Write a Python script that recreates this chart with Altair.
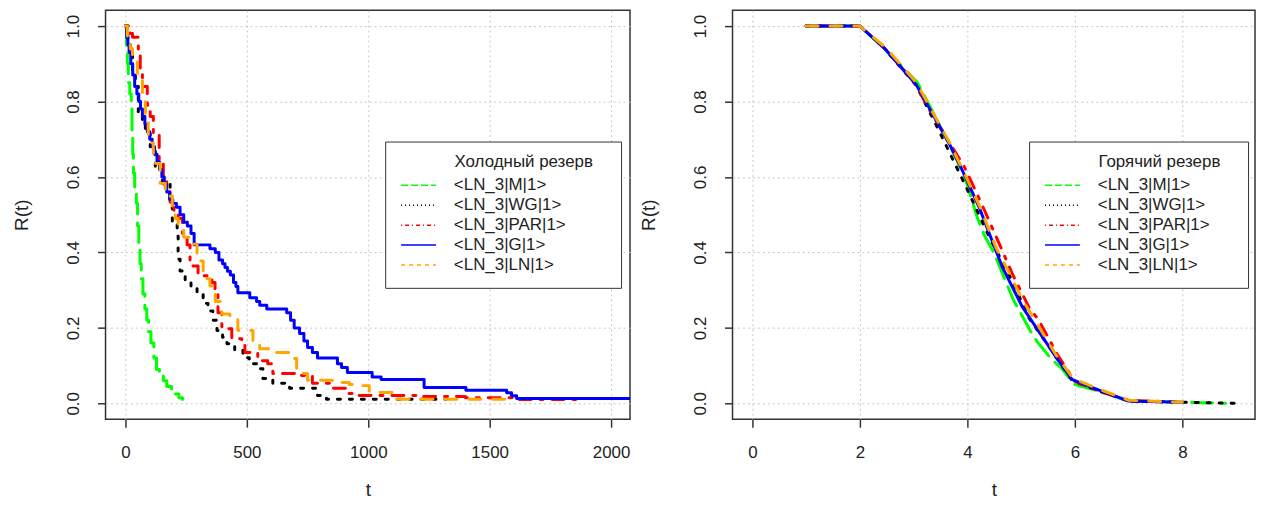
import altair as alt
import pandas as pd

# ---------------- data ----------------
series_names = ["<LN_3|M|1>", "<LN_3|WG|1>", "<LN_3|PAR|1>", "<LN_3|G|1>", "<LN_3|LN|1>"]
series_colors = ["#00ff00", "#000000", "#ff0000", "#0000ff", "#ffa500"]
plot_dashes = [[21, 9], [3, 9], [3, 9, 12, 9], [1, 0], [12, 12]]
legend_dashes = [[7, 3], [1, 3], [1, 3, 4, 3], [1, 0], [4, 4]]

# Cold reserve (step curves)
cold_M_t = [0, 4, 8, 12, 18, 24, 27, 30, 33, 38, 45, 50, 55, 60, 65, 72, 80, 88, 95, 105, 117, 128, 140, 156, 170, 190, 205, 220, 235]
cold_M_r = [1.0, 0.95, 0.9, 0.85, 0.82, 0.78, 0.72, 0.66, 0.61, 0.57, 0.53, 0.47, 0.42, 0.37, 0.33, 0.29, 0.25, 0.22, 0.19, 0.16, 0.12, 0.09, 0.075, 0.06, 0.045, 0.035, 0.025, 0.015, 0.01]

cold_WG_t = [0, 10, 20, 29, 41, 53, 70, 82, 102, 123, 152, 184, 193, 213, 217, 225, 246, 270, 295, 320, 340, 360, 377, 400, 418, 450, 484, 510, 541, 566, 607, 676, 766, 791, 828, 1320]
cold_WG_r = [1.0, 0.96, 0.937, 0.88, 0.84, 0.773, 0.74, 0.715, 0.68, 0.62, 0.583, 0.53, 0.478, 0.443, 0.382, 0.351, 0.325, 0.31, 0.29, 0.265, 0.245, 0.22, 0.193, 0.175, 0.158, 0.14, 0.121, 0.105, 0.092, 0.066, 0.053, 0.04, 0.04, 0.021, 0.011, 0.011]

cold_PAR_t = [0, 20, 29, 53, 61, 70, 90, 102, 115, 139, 156, 170, 184, 200, 217, 235, 254, 266, 299, 356, 369, 381, 397, 438, 479, 492, 545, 586, 607, 717, 770, 840, 910, 950, 1220, 1400, 1600, 1880]
cold_PAR_r = [1.0, 0.98, 0.97, 0.926, 0.88, 0.84, 0.79, 0.76, 0.715, 0.646, 0.594, 0.56, 0.53, 0.51, 0.49, 0.45, 0.42, 0.364, 0.338, 0.32, 0.29, 0.24, 0.198, 0.171, 0.158, 0.135, 0.113, 0.105, 0.079, 0.074, 0.053, 0.04, 0.026, 0.021, 0.018, 0.015, 0.01, 0.01]

cold_G_t = [0, 5, 10, 15, 22, 30, 38, 47, 55, 62, 70, 80, 90, 100, 110, 120, 130, 140, 150, 160, 170, 182, 195, 210, 225, 240, 255, 270, 283, 348, 370, 385, 400, 410, 420, 432, 445, 455, 463, 512, 540, 553, 582, 664, 680, 695, 717, 735, 750, 770, 791, 873, 890, 914, 1016, 1053, 1230, 1402, 1570, 1590, 1611, 2100]
cold_G_r = [1.0, 0.97, 0.95, 0.93, 0.9, 0.87, 0.84, 0.82, 0.8, 0.78, 0.76, 0.74, 0.72, 0.7, 0.68, 0.66, 0.64, 0.62, 0.6, 0.58, 0.56, 0.54, 0.53, 0.52, 0.5, 0.48, 0.47, 0.45, 0.42, 0.41, 0.4, 0.38, 0.37, 0.36, 0.35, 0.34, 0.32, 0.31, 0.293, 0.28, 0.27, 0.26, 0.25, 0.24, 0.22, 0.2, 0.185, 0.165, 0.148, 0.135, 0.12, 0.105, 0.095, 0.082, 0.07, 0.063, 0.042, 0.035, 0.028, 0.02, 0.013, 0.013]

cold_LN_t = [0, 8, 20, 29, 49, 70, 82, 94, 115, 143, 164, 193, 205, 217, 240, 266, 295, 320, 348, 370, 397, 430, 463, 525, 553, 594, 684, 705, 750, 852, 922, 971, 1004, 1098, 1586]
cold_LN_r = [1.0, 0.97, 0.94, 0.91, 0.857, 0.805, 0.76, 0.69, 0.636, 0.583, 0.549, 0.504, 0.49, 0.464, 0.44, 0.422, 0.377, 0.33, 0.311, 0.27, 0.237, 0.224, 0.193, 0.166, 0.145, 0.135, 0.119, 0.079, 0.061, 0.055, 0.05, 0.047, 0.029, 0.011, 0.011]

# Hot reserve (polyline curves)
hot_M_t = [1, 2, 2.28, 2.6, 3.07, 3.4, 3.67, 3.95, 4.19, 4.31, 4.47, 4.56, 4.69, 4.87, 5.18, 5.3, 5.57, 5.74, 5.89, 6.0, 6.5, 7.0, 7.5, 8.0, 8.8]
hot_M_r = [1.0, 1.0, 0.963, 0.92, 0.85, 0.76, 0.685, 0.6, 0.49, 0.447, 0.405, 0.376, 0.33, 0.27, 0.19, 0.163, 0.116, 0.095, 0.068, 0.05, 0.03, 0.006, 0.005, 0.003, 0.0]

hot_WG_t = [1, 2, 2.43, 3.05, 3.48, 3.97, 4.41, 4.83, 5.15, 5.52, 5.95, 6.5, 7.0, 8.0, 9.0]
hot_WG_r = [1.0, 1.0, 0.945, 0.842, 0.72, 0.575, 0.44, 0.325, 0.225, 0.15, 0.06, 0.03, 0.006, 0.003, 0.0]

hot_PAR_t = [1, 2, 2.5, 3.0, 3.3, 3.67, 3.95, 4.26, 4.54, 4.83, 5.15, 5.33, 5.67, 6.0, 6.5, 7.0, 7.8]
hot_PAR_r = [1.0, 1.0, 0.935, 0.853, 0.776, 0.69, 0.625, 0.53, 0.44, 0.345, 0.253, 0.22, 0.13, 0.058, 0.03, 0.008, 0.004]

hot_G_t = [1, 2, 2.43, 3.05, 3.36, 3.67, 3.91, 4.22, 4.41, 4.65, 5.02, 5.27, 5.64, 5.95, 6.5, 7.0, 8.0]
hot_G_r = [1.0, 1.0, 0.945, 0.844, 0.765, 0.686, 0.616, 0.519, 0.449, 0.361, 0.256, 0.203, 0.124, 0.063, 0.032, 0.006, 0.003]

hot_LN_t = [1, 2, 2.5, 3.05, 3.36, 3.67, 3.91, 4.22, 4.54, 4.8, 5.02, 5.3, 5.64, 5.97, 6.5, 7.0, 8.0]
hot_LN_r = [1.0, 1.0, 0.94, 0.85, 0.77, 0.69, 0.62, 0.525, 0.41, 0.34, 0.275, 0.21, 0.13, 0.065, 0.035, 0.008, 0.003]

cold_tabs = [(cold_M_t, cold_M_r), (cold_WG_t, cold_WG_r), (cold_PAR_t, cold_PAR_r), (cold_G_t, cold_G_r), (cold_LN_t, cold_LN_r)]
hot_tabs = [(hot_M_t, hot_M_r), (hot_WG_t, hot_WG_r), (hot_PAR_t, hot_PAR_r), (hot_G_t, hot_G_r), (hot_LN_t, hot_LN_r)]


def to_df(tabs):
    frames = []
    for name, (t, r) in zip(series_names, tabs):
        frames.append(pd.DataFrame({"series": name, "t": t, "r": r}))
    return pd.concat(frames, ignore_index=True)


FONT = "Liberation Sans"
TXT = "#222222"
AX = "#333333"


def panel(df, interp, xdom, xticks, width, legend_title, legend_x):
    x = alt.X(
        "t:Q",
        scale=alt.Scale(domain=xdom, nice=False, zero=False),
        axis=alt.Axis(
            values=xticks, title="t", format="d", domain=False,
            tickSize=8, tickColor=AX, tickWidth=1.5,
            labelFont=FONT, labelFontSize=17, labelColor=TXT,
            labelBaseline="alphabetic", labelPadding=30, labelFlush=False,
            titleFont=FONT, titleFontSize=19, titleFontWeight="normal", titleColor=TXT,
            titleBaseline="alphabetic", titleY=77,
            grid=True, gridDash=[2, 3], gridColor="#c8c8c8", gridWidth=1,
        ),
    )
    y = alt.Y(
        "r:Q",
        scale=alt.Scale(domain=[-0.042, 1.042], nice=False, zero=False),
        axis=alt.Axis(
            values=[0, 0.2, 0.4, 0.6, 0.8, 1.0], format=".1f", title="R(t)", domain=False,
            tickSize=8, tickColor=AX, tickWidth=1.5,
            labelFont=FONT, labelFontSize=17, labelColor=TXT,
            labelAngle=270, labelAlign="center", labelBaseline="alphabetic", labelPadding=19,
            labelFlush=False,
            titleFont=FONT, titleFontSize=19, titleFontWeight="normal", titleColor=TXT,
            titleBaseline="alphabetic", titleX=-78, titleAngle=270,
            grid=True, gridDash=[2, 3], gridColor="#c8c8c8", gridWidth=1,
        ),
    )
    base = alt.Chart(df)
    layers = []
    for name, col, dash in zip(series_names, series_colors, plot_dashes):
        layers.append(
            base.transform_filter(alt.datum.series == name)
            .mark_line(interpolate=interp, strokeWidth=3, strokeCap="round", strokeJoin="round", clip=True)
            .encode(x=x, y=y, color=alt.value(col), strokeDash=alt.value(dash), order="t:Q")
        )
    leg = alt.Legend(
        title="\u200b" + "\u00a0" * 12 + legend_title + "\u00a0" * 3 + "\u200b",
        titleLimit=400, labelLimit=400,
        orient="none", legendX=legend_x, legendY=132,
        symbolType="stroke", symbolSize=1225, symbolStrokeWidth=1.5, symbolOffset=2,
        labelFont=FONT, labelFontSize=17, labelColor=TXT, labelOffset=17,
        titleFont=FONT, titleFontSize=17, titleFontWeight="normal", titleColor=TXT,
        titlePadding=4, rowPadding=0, clipHeight=20, padding=13,
        strokeColor=AX, fillColor="white", cornerRadius=0,
    )
    legend_layer = (
        base.transform_filter("false")
        .mark_line(strokeWidth=1.5)
        .encode(
            x=x, y=y,
            color=alt.Color("series:N", scale=alt.Scale(domain=series_names, range=series_colors), legend=leg),
            strokeDash=alt.StrokeDash("series:N", scale=alt.Scale(domain=series_names, range=legend_dashes), legend=leg),
        )
    )
    return alt.layer(*layers, legend_layer).properties(width=width, height=411)


left = panel(to_df(cold_tabs), "step-after", [-82, 2078], [0, 500, 1000, 1500, 2000], 527,
             "Холодный резерв", 281)
right = panel(to_df(hot_tabs), "linear", [-0.37, 9.35], [0, 2, 4, 6, 8], 525,
              "Горячий резерв", 298)

chart = (
    alt.hconcat(left, right, spacing=8)
    .resolve_scale(x="independent", y="independent", color="independent", strokeDash="independent")
    .resolve_legend(color="independent", strokeDash="independent")
    .properties(padding={"left": 4, "top": 0, "right": 0, "bottom": 0}, background="white")
    .configure_view(stroke=AX, strokeWidth=1.5)
)

chart.save("out.html", embed_options={"renderer": "svg", "actions": False})
